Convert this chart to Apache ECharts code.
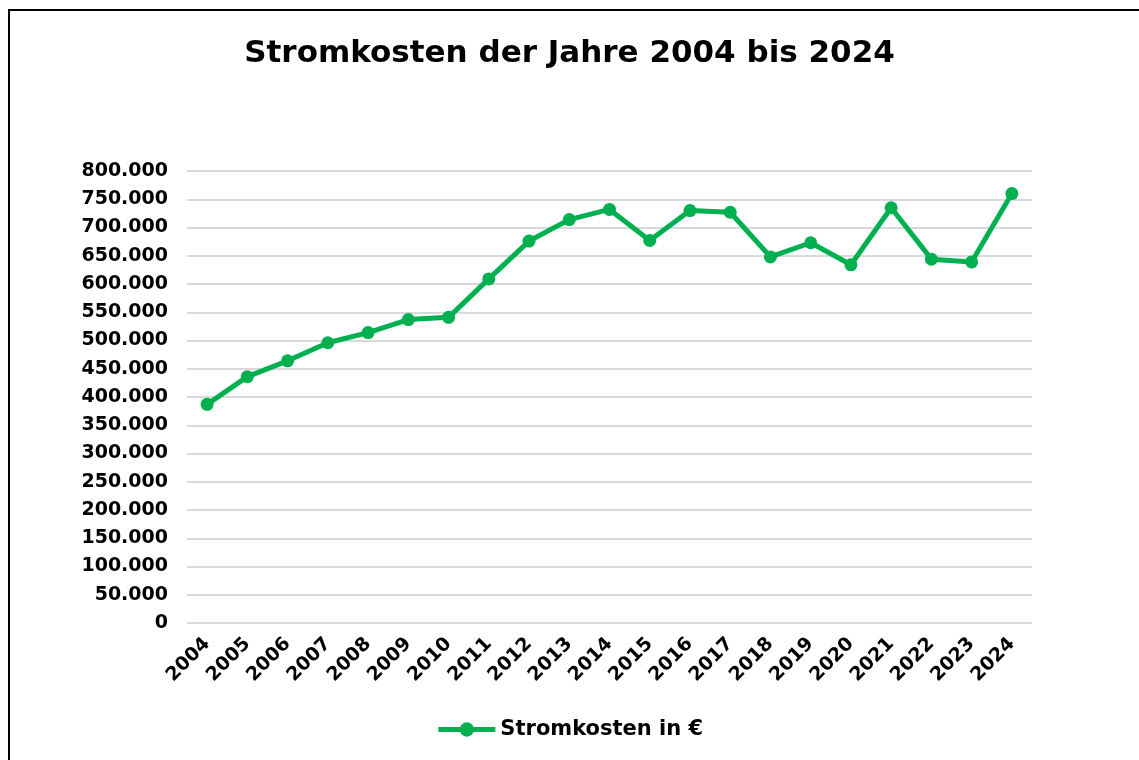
<!DOCTYPE html>
<html>
<head>
<meta charset="utf-8">
<script src="https://cdn.jsdelivr.net/npm/echarts@6/dist/echarts.min.js"></script>
<style>
  html, body { margin: 0; padding: 0; background: #fff; }
  #frame { position: absolute; left: 8px; top: 9px; width: 1140px; height: 760px; border: 2px solid #000; box-sizing: border-box; }
  #chart { position: absolute; left: 0; top: 0; width: 1139px; height: 760px; }
</style>
</head>
<body>
<div id="frame"></div>
<div id="chart"></div>
<script>
// Stromkosten 2004 - 2024
var years = ['2004', '2005', '2006', '2007', '2008', '2009', '2010', '2011', '2012', '2013', '2014',
    '2015', '2016', '2017', '2018', '2019', '2020', '2021', '2022', '2023', '2024']
var kosten = [387000, 436000, 464000, 496000, 514000, 537000, 541000, 609000, 676000, 714000, 732000,
    677000, 730000, 727000, 648000, 673000, 634000, 735000, 644000, 639000, 760000]

function punkte(v) {
    return String(v).replace(/\B(?=(\d{3})+(?!\d))/g, '.')
}

var fontName = 'DejaVu Sans, sans-serif'

var option = {
    animation: false,
    title: {
        text: 'Stromkosten der Jahre 2004 bis 2024',
        left: 'center',
        top: 33,
        textStyle: {fontSize: 31, fontWeight: 'bold', color: '#000', fontFamily: fontName}
    },
    legend: {
        bottom: 15,
        left: 'center',
        itemWidth: 57,
        itemHeight: 18,
        itemGap: 6,
        lineStyle: {width: 5},
        textStyle: {fontSize: 21, fontWeight: 'bold', color: '#000', fontFamily: fontName}
    },
    grid: {
        left: 187,
        right: 107,
        top: 171,
        bottom: 137
    },
    xAxis: {
        type: 'category',
        data: years,
        boundaryGap: true,
        axisLine: {show: false},
        axisTick: {show: false},
        axisLabel: {
            rotate: 45,
            interval: 0,
            margin: 18,
            fontSize: 19,
            fontWeight: 'bold',
            color: '#000',
            fontFamily: fontName
        }
    },
    yAxis: {
        type: 'value',
        min: 0,
        max: 800000,
        interval: 50000,
        axisLine: {show: false},
        axisTick: {show: false},
        splitLine: {lineStyle: {color: '#d9d9d9', width: 2}},
        axisLabel: {
            margin: 19,
            fontSize: 19,
            fontWeight: 'bold',
            color: '#000',
            fontFamily: fontName,
            formatter: punkte
        }
    },
    series: [
        {
            name: 'Stromkosten in €',
            type: 'line',
            data: kosten,
            symbol: 'circle',
            symbolSize: 13,
            itemStyle: {color: '#00b050'},
            lineStyle: {color: '#00b050', width: 5}
        }
    ]
};

var chart = echarts.init(document.getElementById('chart'), null, {renderer: 'canvas'});
chart.setOption(option);
</script>
</body>
</html>
